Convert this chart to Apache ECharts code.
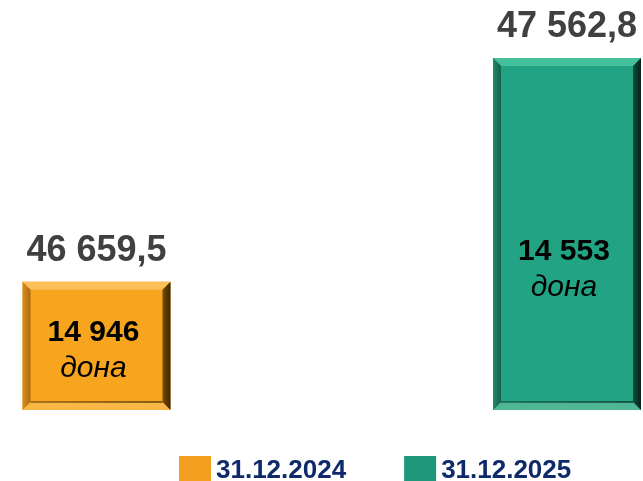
<!DOCTYPE html>
<html>
<head>
<meta charset="utf-8">
<script src="https://cdn.jsdelivr.net/npm/echarts@6/dist/echarts.min.js"></script>
<style>
  html, body { margin: 0; padding: 0; background: #fff; }
  #chart { width: 643px; height: 481px; }
</style>
</head>
<body>
<div id="chart"></div>
<script>
// data
const dates = ['31.12.2024', '31.12.2025'];
const amounts = [46659.5, 47562.8];
const counts = [14946, 14553];
const unitLabel = 'дона';

// bar look: face, top, bottom, left, right bevels
const palettes = [
  { face: '#F7A41F', top: '#FBC057', bottom: '#F9B845', left: ['#D99020', '#A86A10'], right: ['#7A4D08', '#3A2403'], legend: '#F3A020' },
  { face: '#22A383', top: '#45C09C', bottom: '#4FB796', left: ['#1E8A6C', '#155F4B'], right: ['#0F4F3D', '#04231A'], legend: '#1F977A' }
];
const innerLabelAt = [0.478, 0.579];

function fmt (v, dec) {
  const parts = v.toFixed(dec).split('.');
  const int = parts[0].replace(/\B(?=(\d{3})+(?!\d))/g, ' ');
  return parts.length > 1 ? int + ',' + parts[1] : int;
}

const yMin = 46142;
const barW = 148;
const bev = 8;
const font = '"Liberation Sans", Arial, sans-serif';

function makeRender (i) {
  const p = palettes[i];
  return function (params, api) {
    const top = api.coord([api.value(0), api.value(1)]);
    const bot = api.coord([api.value(0), yMin]);
    const x0 = top[0] - barW / 2, x1 = top[0] + barW / 2;
    const y0 = top[1], y1 = bot[1];
    const grad = (c) => new echarts.graphic.LinearGradient(0, 0, 1, 0, [{ offset: 0, color: c[0] }, { offset: 1, color: c[1] }]);
    const ly = y0 + (y1 - y0) * innerLabelAt[i];
    // inner line under the bottom bevel
    const seam = { type: 'line', shape: { x1: x0 + bev, y1: y1 - bev, x2: x1 - bev, y2: y1 - bev }, style: { stroke: grad(p.right), lineWidth: 2, opacity: 0.6 } };
    return {
      type: 'group',
      children: [
        { type: 'rect', shape: { x: x0, y: y0, width: barW, height: y1 - y0 }, style: { fill: p.face } },
        { type: 'polygon', shape: { points: [[x0, y0], [x1, y0], [x1 - bev, y0 + bev], [x0 + bev, y0 + bev]] }, style: { fill: p.top } },
        { type: 'polygon', shape: { points: [[x0, y1], [x1, y1], [x1 - bev, y1 - bev], [x0 + bev, y1 - bev]] }, style: { fill: p.bottom } },
        seam,
        { type: 'polygon', shape: { points: [[x0, y0], [x0 + bev, y0 + bev], [x0 + bev, y1 - bev], [x0, y1]] }, style: { fill: grad(p.left) } },
        { type: 'polygon', shape: { points: [[x1, y0], [x1 - bev, y0 + bev], [x1 - bev, y1 - bev], [x1, y1]] }, style: { fill: grad(p.right) } },
        { type: 'text', style: { text: fmt(amounts[i], 1), x: top[0], y: y0 - 31, align: 'center', verticalAlign: 'middle', fill: '#404040', font: 'bold 36px ' + font } },
        { type: 'text', style: { text: fmt(counts[i], 0), x: top[0] - 3, y: ly - 10.4, align: 'center', verticalAlign: 'middle', fill: '#000', font: 'bold 30px ' + font } },
        { type: 'text', style: { text: unitLabel, x: top[0] - 3, y: ly + 25.6, align: 'center', verticalAlign: 'middle', fill: '#000', font: 'italic 30px ' + font } }
      ]
    };
  };
}

const chart = echarts.init(document.getElementById('chart'));
chart.setOption({
  animation: false,
  legend: {
    left: 174,
    top: 451,
    icon: 'rect',
    itemWidth: 32,
    itemHeight: 30,
    itemGap: 58,
    textStyle: { color: '#0F2A6B', fontSize: 26, fontWeight: 'bold', fontFamily: font },
    data: dates
  },
  grid: { left: 96.5, right: 76, top: 58, bottom: 71 },
  xAxis: { type: 'category', data: dates, boundaryGap: false, show: false },
  yAxis: { type: 'value', min: yMin, max: amounts[1], show: false },
  series: dates.map((d, i) => ({
    name: d,
    type: 'custom',
    clip: false,
    itemStyle: { color: palettes[i].legend },
    renderItem: makeRender(i),
    data: [[i, amounts[i]]]
  }))
});
</script>
</body>
</html>
